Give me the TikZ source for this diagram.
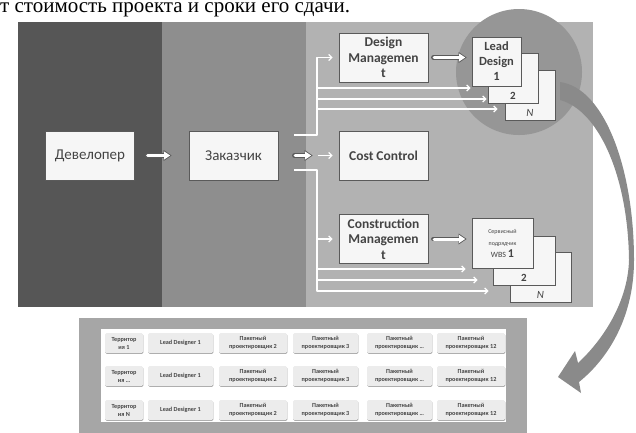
\documentclass[tikz,border=0pt]{standalone}
\usepackage{fontspec}
\setmainfont{Carlito}
\newfontfamily\serifru{Liberation Serif}
\usetikzlibrary{arrows.meta,positioning,shadows}
\definecolor{PanelDark}{RGB}{86,86,86}
\definecolor{PanelMid}{RGB}{142,142,142}
\definecolor{PanelLight}{RGB}{178,178,178}
\definecolor{FocusGray}{RGB}{150,150,150}
\definecolor{ArrowGray}{RGB}{138,138,138}
\definecolor{BoxLine}{RGB}{90,90,90}
\definecolor{BoxFill}{RGB}{246,246,246}
\definecolor{InkGray}{RGB}{68,68,68}
\definecolor{CellFill}{RGB}{236,236,236}
\definecolor{TablePanel}{RGB}{166,166,166}

\tikzset{
  role/.style={draw=BoxLine,fill=BoxFill,line width=0.8pt,minimum width=89pt,
    minimum height=49pt,inner sep=1pt,align=center,text=InkGray,
    font=\bfseries\fontsize{13.5}{15.5}\selectfont},
  stackbox/.style={draw=BoxLine,fill=BoxFill,line width=0.8pt,inner sep=0pt,
    align=center,text=InkGray},
  bus/.style={draw=white,line width=1.3pt,line join=round},
  tip/.style={-{Straight Barb[length=3pt,width=6pt]}},
  fatout/.style={draw=BoxLine,line width=4.6pt,line cap=round,
    -{Triangle[length=8pt,width=11pt,line width=0pt]}},
  fatin/.style={draw=white,line width=3pt,line cap=round,
    -{Triangle[length=6pt,width=8pt,line width=0pt]}},
  cell/.style={fill=CellFill,rounded corners=1.5pt,minimum height=20pt,inner sep=0pt,
    align=center,text=InkGray,font=\bfseries\fontsize{6.2}{8}\selectfont,
    drop shadow={shadow xshift=0.4pt,shadow yshift=-0.9pt,opacity=0.35,fill=black}}
}

\begin{document}
\begin{tikzpicture}[x=1pt,y=-1pt,>=Latex]
  \useasboundingbox (0,0) rectangle (636,432);
  \node (head) [anchor=base west,inner sep=0pt,
    font=\serifru\fontsize{21}{24}\selectfont] at (0,12)
    {т стоимость проекта и сроки его сдачи.};

  % three bands of the organisation
  \fill[PanelDark] (18,22) rectangle (162,307);
  \fill[PanelMid] (162,22) rectangle (306,307);
  \fill[PanelLight] (306,22) rectangle (593,307);
  \fill[FocusGray] (519,72) circle (63pt);

  \node[role,font=\fontsize{15}{18}\selectfont] (dev) at (90,155.5) {Девелопер};
  \node[role,font=\fontsize{15}{18}\selectfont] (zak) at (233.5,155.5) {Заказчик};
  \node[role] (dm) at (383.5,57.5) {Design\\Managemen\\t};
  \node[role] (cc) at (383.5,155.5) {Cost Control};
  \node[role] (cm) at (383.5,239) {Construction\\Managemen\\t};

  % lead design stack
  \node[stackbox,minimum width=50pt,minimum height=50pt] (ldn) at (530,95) {};
  \node[stackbox,minimum width=50pt,minimum height=50pt] (ld2) at (513,78) {};
  \node[stackbox,minimum width=49pt,minimum height=49pt,
    font=\bfseries\fontsize{12.5}{15}\selectfont] (ld1) at (496.5,61.5) {Lead\\Design\\1};
  \node[above=0pt of ld2.south,text=InkGray,font=\bfseries\fontsize{11}{12}\selectfont] (ld2t) {2};
  \node[above=0pt of ldn.south,text=InkGray,font=\itshape\fontsize{11}{12}\selectfont] (ldnt) {N};

  % service contractor stack
  \node[stackbox,minimum width=61pt,minimum height=50pt] (svn) at (540.5,277) {};
  \node[stackbox,minimum width=62pt,minimum height=49pt] (sv2) at (524,260.5) {};
  \node[stackbox,minimum width=61pt,minimum height=50pt] (sv1) at (502.5,243)
    {\fontsize{6}{7}\selectfont Сервисный\\
     \fontsize{6}{7}\selectfont подрядчик\\
     \fontsize{8}{11}\selectfont WBS {\bfseries\fontsize{12}{12}\selectfont 1}};
  \node[above=0pt of sv2.south,text=InkGray,font=\bfseries\fontsize{11}{12}\selectfont] (sv2t) {2};
  \node[above=0pt of svn.south,text=InkGray,font=\itshape\fontsize{11}{12}\selectfont] (svnt) {N};

  % hollow arrows: grey outline first, white body on top
  \draw[fatout,shorten <=12pt,shorten >=17pt] (dev) -- (zak);
  \draw[fatin,shorten <=12.8pt,shorten >=18.4pt] (dev) -- (zak);
  \draw[fatout,shorten <=16pt,shorten >=26pt] (zak) -- (cc);
  \draw[fatin,shorten <=16.8pt,shorten >=27.4pt] (zak) -- (cc);
  \draw[fatout,shorten <=5pt,shorten >=5pt] (dm.east) -- (dm.east -| ld1.west);
  \draw[fatin,shorten <=5.8pt,shorten >=6.4pt] (dm.east) -- (dm.east -| ld1.west);
  \draw[fatout,shorten <=5pt,shorten >=5pt] (cm.east) -- (cm.east -| sv1.west);
  \draw[fatin,shorten <=5.8pt,shorten >=6.4pt] (cm.east) -- (cm.east -| sv1.west);

  % white bus lines
  \coordinate (upA) at (317,135);
  \coordinate (upB) at (317,57.5);
  \coordinate (loA) at (317,170);
  \coordinate (loB) at (317,291);
  \coordinate (mid) at (318,155.5);
  \draw[bus,tip,shorten <=16pt,shorten >=6pt] (zak.east |- upA) -- (upA) -- (upB) -- (dm.west);
  \draw[bus,tip,shorten >=6pt] (mid) -- (cc.west);
  \draw[bus,tip,shorten <=16pt,shorten >=21pt] (zak.east |- loA) -- (loA) -- (loB) -- (loB -| svn.west);
  \draw[bus,tip,shorten >=6pt] (loA |- cm.west) -- (cm.west);
  \foreach \i/\y/\t/\s in {1/88/ld1/1,2/99/ld2/1,3/109/ldn/7}{
    \coordinate (bu\i) at (317,\y);
    \draw[bus,tip,shorten >=\s pt] (bu\i) -- (bu\i -| \t.west);
  }
  \foreach \i/\y/\t/\s in {1/269/sv1/6,2/280/sv2/15}{
    \coordinate (bl\i) at (317,\y);
    \draw[bus,tip,shorten >=\s pt] (bl\i) -- (bl\i -| \t.west);
  }

  % tapered arrow down to the table
  \fill[ArrowGray] (560,82) .. controls (605,88) and (634,170) .. (634,260)
    .. controls (634,315) and (610,357) .. (579,382)
    -- (581,393) -- (558,377) -- (575,351) -- (578,363)
    .. controls (605,338) and (628,300) .. (629,260)
    .. controls (628,175) and (598,110) .. (560,100) -- cycle;

  % package table
  \fill[TablePanel] (79,318) rectangle (527,440);
  \fill[white] (101,329) rectangle (506,422);
  \foreach \r/\y/\n in {1/343/1,2/376/\ldots,3/410/N}{
    \node[cell,minimum width=38pt] (ter\r) at (124,\y) {Территор\\ия \n};
    \node[cell,minimum width=65pt] (lead\r) at (180.5,\y) {Lead Designer 1};
    \foreach \c/\x/\w/\k in {3/253/68/2,4/325.5/65/3,5/399.5/65/\ldots,6/471/68/12}
      \node[cell,minimum width=\w pt] (pak\r\c) at (\x,\y) {Пакетный\\проектировщик \k};
  }
\end{tikzpicture}
\end{document}
